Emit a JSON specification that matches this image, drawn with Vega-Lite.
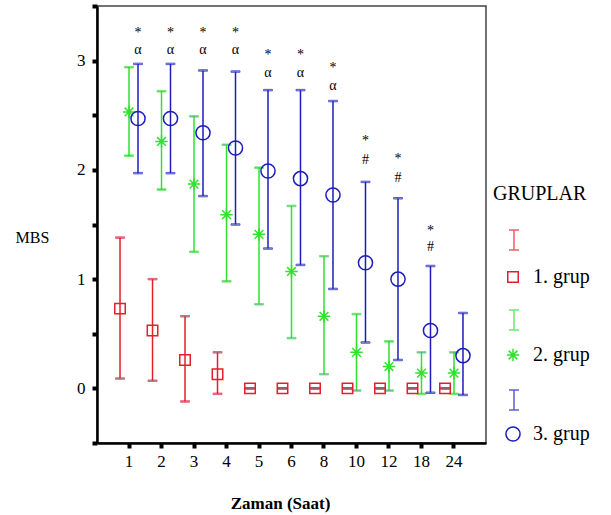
{
  "$schema": "https://vega.github.io/schema/vega-lite/v6.json",
  "width": 389,
  "height": 437,
  "autosize": {"type": "none"},
  "padding": {"left": 97, "top": 6, "right": 125, "bottom": 72},
  "background": "white",
  "config": {
    "view": {"stroke": "#444444", "strokeWidth": 1.5},
    "font": "Liberation Serif, Times New Roman, serif",
    "axis": {"grid": false, "labelFont": "Liberation Serif, Times New Roman, serif", "titleFont": "Liberation Serif, Times New Roman, serif", "labelColor": "black", "titleColor": "black", "domainColor": "black", "tickColor": "black"},
    "legend": {"labelFont": "Liberation Serif, Times New Roman, serif", "titleFont": "Liberation Serif, Times New Roman, serif"}
  },
  "datasets": {
    "stats": [
      {"t": "1", "grup": "1. grup", "g": 1, "mean": 0.73, "lo": 0.09, "hi": 1.38},
      {"t": "2", "grup": "1. grup", "g": 1, "mean": 0.53, "lo": 0.07, "hi": 1.0},
      {"t": "3", "grup": "1. grup", "g": 1, "mean": 0.26, "lo": -0.12, "hi": 0.66},
      {"t": "4", "grup": "1. grup", "g": 1, "mean": 0.13, "lo": -0.05, "hi": 0.33},
      {"t": "5", "grup": "1. grup", "g": 1, "mean": 0, "lo": 0, "hi": 0},
      {"t": "6", "grup": "1. grup", "g": 1, "mean": 0, "lo": 0, "hi": 0},
      {"t": "8", "grup": "1. grup", "g": 1, "mean": 0, "lo": 0, "hi": 0},
      {"t": "10", "grup": "1. grup", "g": 1, "mean": 0, "lo": 0, "hi": 0},
      {"t": "12", "grup": "1. grup", "g": 1, "mean": 0, "lo": 0, "hi": 0},
      {"t": "18", "grup": "1. grup", "g": 1, "mean": 0, "lo": 0, "hi": 0},
      {"t": "24", "grup": "1. grup", "g": 1, "mean": 0, "lo": 0, "hi": 0},
      {"t": "1", "grup": "2. grup", "g": 2, "mean": 2.53, "lo": 2.13, "hi": 2.94},
      {"t": "2", "grup": "2. grup", "g": 2, "mean": 2.26, "lo": 1.82, "hi": 2.72},
      {"t": "3", "grup": "2. grup", "g": 2, "mean": 1.87, "lo": 1.25, "hi": 2.49},
      {"t": "4", "grup": "2. grup", "g": 2, "mean": 1.59, "lo": 0.98, "hi": 2.23},
      {"t": "5", "grup": "2. grup", "g": 2, "mean": 1.41, "lo": 0.77, "hi": 2.02},
      {"t": "6", "grup": "2. grup", "g": 2, "mean": 1.07, "lo": 0.46, "hi": 1.67},
      {"t": "8", "grup": "2. grup", "g": 2, "mean": 0.66, "lo": 0.13, "hi": 1.21},
      {"t": "10", "grup": "2. grup", "g": 2, "mean": 0.33, "lo": -0.02, "hi": 0.68},
      {"t": "12", "grup": "2. grup", "g": 2, "mean": 0.2, "lo": -0.02, "hi": 0.43},
      {"t": "18", "grup": "2. grup", "g": 2, "mean": 0.14, "lo": -0.05, "hi": 0.33},
      {"t": "24", "grup": "2. grup", "g": 2, "mean": 0.14, "lo": -0.05, "hi": 0.33},
      {"t": "1", "grup": "3. grup", "g": 3, "mean": 2.47, "lo": 1.97, "hi": 2.97},
      {"t": "2", "grup": "3. grup", "g": 3, "mean": 2.47, "lo": 1.97, "hi": 2.97},
      {"t": "3", "grup": "3. grup", "g": 3, "mean": 2.34, "lo": 1.76, "hi": 2.91},
      {"t": "4", "grup": "3. grup", "g": 3, "mean": 2.2, "lo": 1.5, "hi": 2.9},
      {"t": "5", "grup": "3. grup", "g": 3, "mean": 1.99, "lo": 1.28, "hi": 2.73},
      {"t": "6", "grup": "3. grup", "g": 3, "mean": 1.92, "lo": 1.13, "hi": 2.73},
      {"t": "8", "grup": "3. grup", "g": 3, "mean": 1.77, "lo": 0.91, "hi": 2.63},
      {"t": "10", "grup": "3. grup", "g": 3, "mean": 1.15, "lo": 0.42, "hi": 1.89},
      {"t": "12", "grup": "3. grup", "g": 3, "mean": 1.0, "lo": 0.26, "hi": 1.74},
      {"t": "18", "grup": "3. grup", "g": 3, "mean": 0.53, "lo": -0.04, "hi": 1.12},
      {"t": "24", "grup": "3. grup", "g": 3, "mean": 0.3, "lo": -0.06, "hi": 0.69}
    ],
    "notes": [
      {"t": "1", "grup": "3. grup", "sym": "*", "y": 3.25},
      {"t": "1", "grup": "3. grup", "sym": "α", "y": 3.1},
      {"t": "2", "grup": "3. grup", "sym": "*", "y": 3.25},
      {"t": "2", "grup": "3. grup", "sym": "α", "y": 3.1},
      {"t": "3", "grup": "3. grup", "sym": "*", "y": 3.25},
      {"t": "3", "grup": "3. grup", "sym": "α", "y": 3.1},
      {"t": "4", "grup": "3. grup", "sym": "*", "y": 3.25},
      {"t": "4", "grup": "3. grup", "sym": "α", "y": 3.1},
      {"t": "5", "grup": "3. grup", "sym": "*", "y": 3.05},
      {"t": "5", "grup": "3. grup", "sym": "α", "y": 2.89},
      {"t": "6", "grup": "3. grup", "sym": "*", "y": 3.05},
      {"t": "6", "grup": "3. grup", "sym": "α", "y": 2.89},
      {"t": "8", "grup": "3. grup", "sym": "*", "y": 2.93},
      {"t": "8", "grup": "3. grup", "sym": "α", "y": 2.77},
      {"t": "10", "grup": "3. grup", "sym": "*", "y": 2.26},
      {"t": "10", "grup": "3. grup", "sym": "#", "y": 2.09},
      {"t": "12", "grup": "3. grup", "sym": "*", "y": 2.1},
      {"t": "12", "grup": "3. grup", "sym": "#", "y": 1.93},
      {"t": "18", "grup": "3. grup", "sym": "*", "y": 1.44},
      {"t": "18", "grup": "3. grup", "sym": "#", "y": 1.29}
    ]
  },
  "encoding": {
    "x": {
      "field": "t", "type": "ordinal",
      "scale": {"type": "band", "domain": ["1","2","3","4","5","6","8","10","12","18","24"], "paddingInner": 0.17, "paddingOuter": 0.57},
      "axis": {
        "title": "Zaman (Saat)", "titleFont": "Liberation Serif", "titleFontSize": 17, "titleFontWeight": "bold",
        "titleX": 183, "titleY": 60, "titleBaseline": "middle", "titleAnchor": "middle", "titleAlign": "center",
        "labelAngle": 0, "labelFont": "Liberation Serif", "labelFontSize": 17, "labelPadding": 5, "bandPosition": 0.5,
        "domainWidth": 2.5, "tickSize": 5, "tickWidth": 4
      }
    },
    "xOffset": {
      "field": "grup", "type": "nominal",
      "scale": {"domain": ["1. grup", "2. grup", "3. grup"], "paddingInner": 0, "paddingOuter": 0}
    }
  },
  "layer": [
    {
      "data": {"name": "stats"},
      "mark": {"type": "rule", "strokeWidth": 1.5},
      "encoding": {
        "y": {
          "field": "lo", "type": "quantitative",
          "scale": {"domain": [-0.5, 3.5], "nice": false, "zero": false},
          "axis": {
            "title": "MBS", "titleFont": "Liberation Serif", "titleAngle": 0, "titleFontSize": 16, "titleFontWeight": "normal",
            "titleX": -65, "titleY": 231, "titleAlign": "center", "titleBaseline": "middle",
            "values": [-0.5, 0, 0.5, 1, 1.5, 2, 2.5, 3, 3.5],
            "labelExpr": "datum.value % 1 == 0 ? format(datum.value, 'd') : ''",
            "labelFont": "Liberation Serif", "labelFontSize": 17, "labelPadding": 7,
            "domainWidth": 2.5, "tickSize": 5, "tickWidth": 4
          }
        },
        "y2": {"field": "hi"},
        "stroke": {
          "field": "g", "type": "nominal",
          "scale": {"domain": [1, 2, 3], "range": ["#e2202a", "#2fe22f", "#1c1cbe"]},
          "legend": {
            "orient": "none", "legendX": 406, "legendY": 223, "title": null,
            "padding": 0, "labelExpr": "''",
            "symbolType": "M-0.5,-1L0.5,-1M0,-1L0,1M-0.5,1L0.5,1",
            "symbolSize": 400, "symbolStrokeWidth": 1.5, "rowPadding": 54
          }
        }
      }
    },
    {
      "data": {"name": "stats"},
      "mark": {"type": "tick", "thickness": 1.5, "size": 9},
      "encoding": {
        "y": {"field": "lo", "type": "quantitative"},
        "stroke": {"field": "g", "type": "nominal"}
      }
    },
    {
      "data": {"name": "stats"},
      "mark": {"type": "tick", "thickness": 1.5, "size": 9},
      "encoding": {
        "y": {"field": "hi", "type": "quantitative"},
        "stroke": {"field": "g", "type": "nominal"}
      }
    },
    {
      "data": {"name": "stats"},
      "mark": {"type": "point", "filled": false, "strokeWidth": 1.5, "opacity": 1},
      "encoding": {
        "y": {"field": "mean", "type": "quantitative"},
        "color": {
          "field": "grup", "type": "nominal",
          "scale": {"domain": ["1. grup", "2. grup", "3. grup"], "range": ["#e2202a", "#2fe22f", "#1c1cbe"]},
          "legend": {
            "orient": "none", "legendX": 396, "legendY": 178, "title": "GRUPLAR",
            "titleFont": "Liberation Serif", "titleFontSize": 20, "titleFontWeight": "normal", "titleColor": "black",
            "titlePadding": 63, "padding": 0,
            "labelFont": "Liberation Serif", "labelFontSize": 20, "labelColor": "black", "labelOffset": 10,
            "symbolOffset": 10, "symbolStrokeWidth": 1.5, "rowPadding": 58
          }
        },
        "shape": {
          "field": "grup", "type": "nominal",
          "scale": {"domain": ["1. grup", "2. grup", "3. grup"], "range": ["square", "M-1,0L1,0M0,-1L0,1M-0.7,-0.7L0.7,0.7M-0.7,0.7L0.7,-0.7", "circle"]}
        },
        "size": {
          "field": "grup", "type": "nominal",
          "scale": {"domain": ["1. grup", "2. grup", "3. grup"], "range": [110, 200, 190]}
        }
      }
    },
    {
      "data": {"name": "notes"},
      "mark": {"type": "text", "font": "Liberation Serif", "fontSize": 14, "color": "black", "baseline": "middle"},
      "encoding": {
        "y": {"field": "y", "type": "quantitative"},
        "text": {"field": "sym"}
      }
    }
  ]
}
